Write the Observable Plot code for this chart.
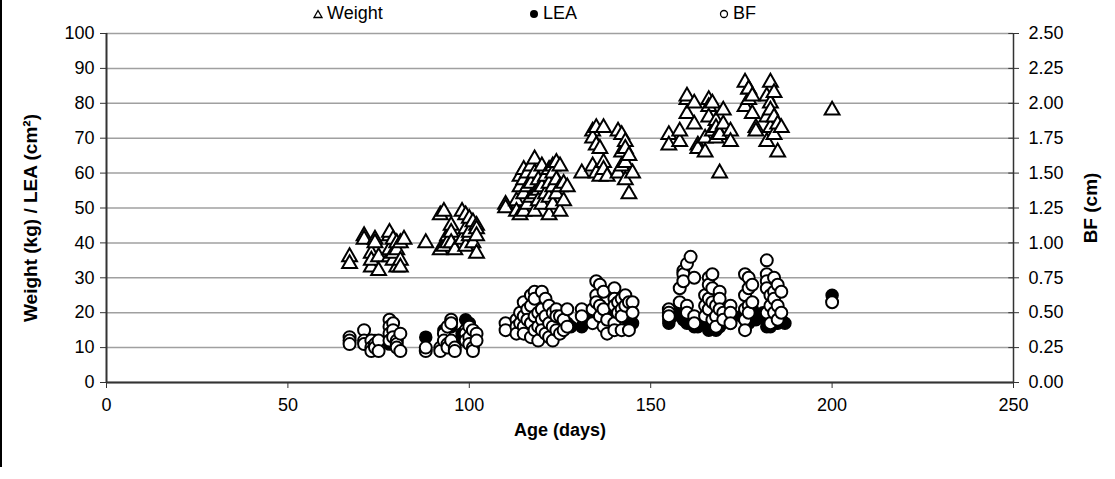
<!DOCTYPE html>
<html><head><meta charset="utf-8">
<script src="https://cdn.jsdelivr.net/npm/d3@7"></script>
<script src="https://cdn.jsdelivr.net/npm/@observablehq/plot@0.6"></script>
<style>
body{margin:0;background:#fff;font-family:"Liberation Sans",Arial,sans-serif;}
#wrap{position:relative;width:1115px;height:479px;overflow:hidden;}
#edge{position:absolute;left:0;top:0;width:2px;height:467px;background:#000;z-index:2;}
#legend{position:absolute;left:0;top:0;width:1115px;height:28px;font-size:18px;color:#000;z-index:2;}
.item{position:absolute;top:3px;display:flex;align-items:center;gap:4px;}
#chart svg{display:block;}
</style></head>
<body><div id="wrap"><div id="edge"></div>
<div id="legend">
 <div class="item" style="left:313px"><svg width="10" height="10"><path d="M5,1.5 L9,8.5 L1,8.5 Z" fill="#fff" stroke="#000" stroke-width="1.3"/></svg><span>Weight</span></div>
 <div class="item" style="left:529px"><svg width="10" height="10"><circle cx="5" cy="5" r="4" fill="#000"/></svg><span>LEA</span></div>
 <div class="item" style="left:719px"><svg width="10" height="10"><circle cx="5" cy="5" r="3.5" fill="#fff" stroke="#000" stroke-width="1.3"/></svg><span>BF</span></div>
</div>
<div id="chart"></div></div>
<script>
// Weight (kg) by age (days)
const weightAge = [67,67,71,71,73,73,73,74,74,75,75,78,78,78,78,79,79,79,80,80,80,81,81,81,82,
 88,92,92,93,93,94,94,95,95,95,96,98,98,99,99,99,100,100,100,101,101,102,102,102,102,
 110,110,113,113,114,114,114,115,115,115,115,116,116,116,117,117,117,118,118,118,118,119,119,119,120,120,120,121,121,122,122,122,122,123,123,123,123,124,124,124,125,125,125,126,126,127,131,
 134,134,134,135,135,135,136,136,137,137,137,138,141,141,142,142,142,143,143,143,143,144,144,145,
 155,155,158,158,160,160,160,162,162,163,163,165,165,166,166,166,167,167,168,168,168,169,169,170,170,172,172,
 176,176,177,177,177,178,178,179,179,182,182,182,183,183,183,183,184,184,184,185,185,186,200];
const weightKg = [36,34,42,41,37,33,35,41,40,36,32,42,43,36,38,41,35,37,40,38,33,40,35,33,41,
 40,48,38,49,39,42,40,45,43,40,38,49,41,48,44,39,47,42,43,46,40,45,44,42,37,
 51,50,52,49,59,56,48,61,58,54,49,60,56,51,62,57,53,64,60,54,49,58,55,52,62,56,51,59,54,61,57,53,48,62,60,56,51,63,58,54,62,56,49,57,52,56,60,
 72,70,62,73,68,60,67,59,73,63,61,59,72,60,71,66,62,69,67,63,58,65,54,60,
 71,68,69,72,81,82,77,80,74,68,67,66,70,81,79,76,80,72,75,73,70,71,60,78,74,72,69,
 86,79,84,81,84,77,82,73,72,82,76,69,86,80,78,73,83,76,71,74,66,73,78];
// LEA (cm²) by age (days)
const leaAge = [67,73,74,78,78,80,88,93,95,98,98,99,100,
 112,113,114,115,116,117,118,119,120,121,122,123,124,125,126,127,128,131,
 134,135,135,135,136,136,137,139,140,140,140,141,142,143,144,144,145,
 155,155,156,158,159,160,160,161,162,162,163,164,165,165,166,166,167,168,168,169,170,171,172,
 175,176,176,177,178,178,179,181,182,182,183,184,184,184,185,186,187,200];
const leaCm2 = [12,11,12,12,11,12,13,15,16,13,14,18,17,
 16,16,17,17,18,16,18,18,17,17,16,18,17,16,18,17,16,16,
 19,20,19,21,22,20,18,21,22,20,18,19,21,20,17,18,17,
 18,17,19,20,18,19,17,17,18,16,16,18,19,17,15,17,16,17,15,16,18,19,17,
 19,20,18,17,19,21,18,20,18,16,16,17,19,22,17,18,17,25];
// BF (cm) by age (days)
const bfAge = [67,67,67,71,71,71,73,73,73,74,74,75,75,78,78,78,78,79,79,79,80,80,80,81,81,
 88,88,92,92,93,93,94,94,94,95,95,95,96,96,99,99,99,100,100,100,101,101,101,102,102,
 110,110,113,113,113,114,114,115,115,115,115,116,116,117,117,117,117,118,118,118,118,119,119,119,120,120,120,120,121,121,121,122,122,122,123,123,123,124,124,124,125,125,126,126,127,127,131,131,
 134,134,135,135,135,136,136,136,137,137,137,138,138,140,140,140,140,140,141,141,142,142,142,142,143,143,144,144,145,145,
 155,155,155,158,158,159,159,159,160,160,160,161,162,162,162,165,165,165,166,166,166,166,167,167,167,167,168,168,168,169,169,169,170,170,172,172,172,
 176,176,176,176,176,177,177,177,177,178,178,182,182,182,182,182,183,183,183,184,184,184,184,185,185,185,186,186,200];
const bfCm = [0.325,0.30,0.275,0.375,0.30,0.275,0.30,0.25,0.225,0.275,0.25,0.30,0.225,0.45,0.40,0.35,0.30,0.425,0.375,0.325,0.30,0.275,0.25,0.35,0.225,
 0.225,0.25,0.25,0.225,0.35,0.30,0.40,0.275,0.25,0.45,0.425,0.30,0.25,0.225,0.375,0.35,0.30,0.40,0.325,0.275,0.375,0.25,0.225,0.35,0.30,
 0.425,0.375,0.45,0.40,0.35,0.50,0.425,0.575,0.475,0.40,0.35,0.525,0.45,0.625,0.55,0.425,0.325,0.65,0.60,0.475,0.375,0.50,0.40,0.30,0.65,0.525,0.45,0.375,0.60,0.475,0.35,0.55,0.425,0.325,0.50,0.40,0.30,0.525,0.475,0.375,0.475,0.35,0.45,0.375,0.525,0.40,0.525,0.475,
 0.525,0.425,0.725,0.625,0.575,0.70,0.55,0.475,0.65,0.525,0.40,0.35,0.45,0.675,0.60,0.55,0.425,0.375,0.575,0.50,0.60,0.525,0.475,0.375,0.625,0.55,0.575,0.375,0.575,0.50,
 0.525,0.50,0.475,0.675,0.575,0.80,0.775,0.725,0.85,0.55,0.50,0.90,0.75,0.475,0.425,0.625,0.55,0.475,0.75,0.70,0.60,0.525,0.775,0.675,0.575,0.45,0.55,0.475,0.40,0.65,0.60,0.525,0.50,0.45,0.55,0.50,0.425,
 0.775,0.625,0.525,0.45,0.375,0.75,0.675,0.55,0.50,0.70,0.575,0.875,0.775,0.725,0.675,0.50,0.625,0.55,0.425,0.75,0.65,0.60,0.50,0.70,0.55,0.45,0.65,0.50,0.575];

const yTicks = [0,10,20,30,40,50,60,70,80,90,100];
const xTicks = [0,50,100,150,200,250];
const bfScale = 40; // 2.50 cm on right axis = 100 on left axis

const weight = weightAge.map((a,i)=>({age:a, v:weightKg[i]}));
const lea = leaAge.map((a,i)=>({age:a, v:leaCm2[i]}));
const bf = bfAge.map((a,i)=>({age:a, v:bfCm[i]*bfScale}));

const chart = Plot.plot({
  width:1115, height:479,
  marginTop:33, marginBottom:97, marginLeft:106, marginRight:102,
  x:{type:"linear", domain:[0,250]}, y:{type:"linear", domain:[0,100]},
  style:{fontFamily:'"Liberation Sans", Arial, sans-serif', fontSize:"17px", color:"#000", background:"#fff"},
  marks:[
    Plot.gridY(yTicks, {stroke:"#a0a0a0", strokeOpacity:1, strokeWidth:1.5}),
    Plot.ruleX([0], {stroke:"#333", strokeWidth:2}),
    Plot.ruleX([250], {stroke:"#333", strokeWidth:1.5}),
    Plot.axisY({ticks:yTicks, tickSize:6, tickPadding:6, label:null, stroke:"#333", fontSize:18}),
    Plot.axisY({anchor:"right", ticks:yTicks, tickSize:5, tickPadding:10, label:null, stroke:"#333", fontSize:18,
      tickFormat:d=>(d/bfScale).toFixed(2)}),
    Plot.ruleY(yTicks, {x1:248.7, x2:250, stroke:"#333"}),
    Plot.axisX({ticks:xTicks, tickSize:6, tickPadding:10, label:null, stroke:"#333", fontSize:18}),
    Plot.ruleY([0], {stroke:"#333", strokeWidth:2}),
    Plot.text(["Age (days)"], {frameAnchor:"bottom", dy:53, fontWeight:"bold", fontSize:18}),
    Plot.text(["Weight (kg) / LEA (cm²)"], {frameAnchor:"left", textAnchor:"middle", dx:-76, dy:10, rotate:-90, fontWeight:"bold", fontSize:19}),
    Plot.text(["BF (cm)"], {frameAnchor:"right", textAnchor:"middle", dx:77, rotate:-90, fontWeight:"bold", fontSize:19}),
    Plot.dot(weight, {x:"age", y:"v", symbol:"triangle", r:5.5, fill:"#fff", stroke:"#000", strokeWidth:2}),
    Plot.dot(lea, {x:"age", y:"v", r:6, fill:"#000", stroke:"#000", strokeWidth:1.5}),
    Plot.dot(bf, {x:"age", y:"v", r:6, fill:"#fff", stroke:"#000", strokeWidth:2})
  ]
});
document.getElementById("chart").appendChild(chart);
</script></body></html>
